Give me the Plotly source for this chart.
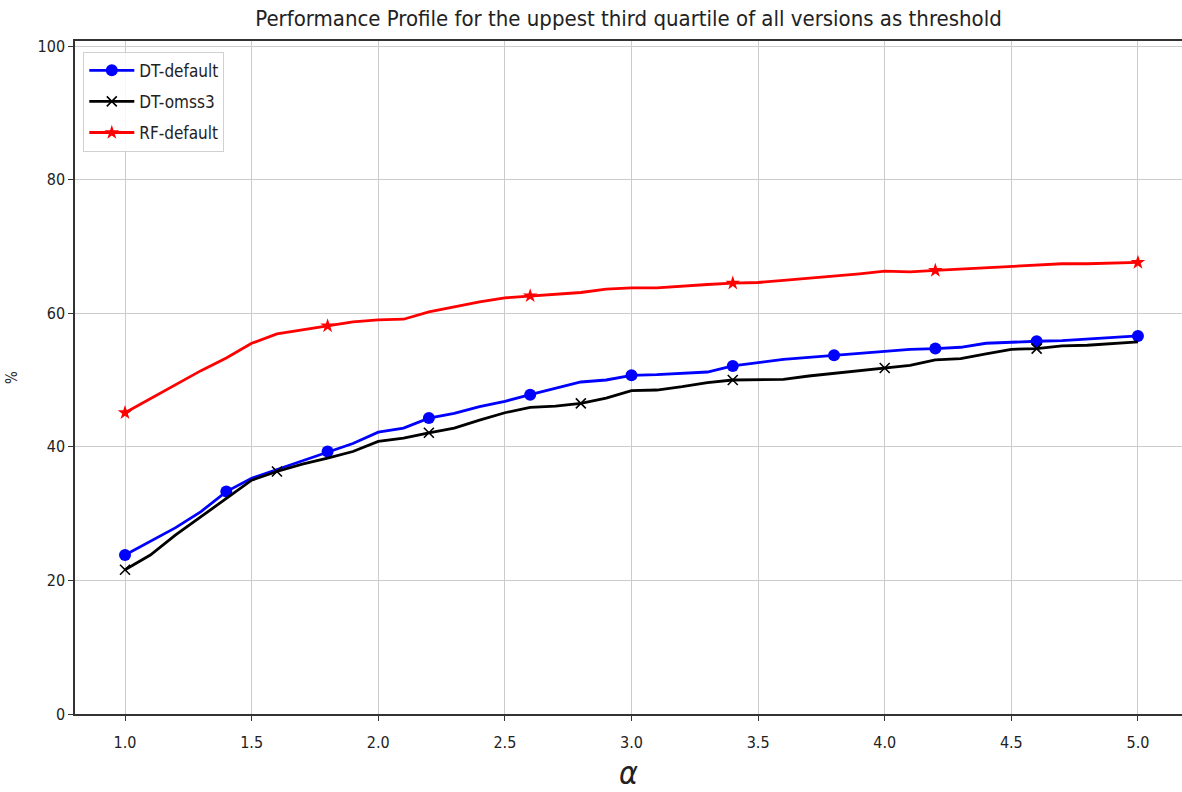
import plotly.graph_objects as go

# alpha grid shared by all three profiles
alpha = [round(1.0 + 0.1 * i, 1) for i in range(41)]

dt_default = [23.8, 25.8, 27.9, 30.3, 33.3, 35.3, 36.6, 38.0, 39.3, 40.5,
              42.2, 42.8, 44.3, 45.0, 46.0, 46.8, 47.8, 48.8, 49.7, 50.0,
              50.7, 50.8, 51.0, 51.2, 52.1, 52.6, 53.1, 53.4, 53.7, 54.1,
              54.4, 54.6, 54.7, 54.9, 55.5, 55.7, 55.8, 55.9, 56.1, 56.3,
              56.6]
dt_omss3 = [21.6, 23.8, 26.8, 29.5, 32.3, 35.0, 36.3, 37.4, 38.3, 39.3,
            40.8, 41.3, 42.1, 42.8, 44.0, 45.1, 45.9, 46.1, 46.5, 47.3,
            48.4, 48.5, 49.0, 49.6, 50.0, 50.1, 50.1, 50.6, 51.0, 51.3,
            51.8, 52.2, 53.0, 53.2, 53.9, 54.6, 54.7, 55.1, 55.2, 55.5,
            55.7]
rf_default = [45.1, 47.2, 49.3, 51.4, 53.3, 55.5, 56.9, 57.5, 58.1, 58.7,
              59.0, 59.1, 60.2, 61.0, 61.7, 62.3, 62.6, 62.9, 63.1, 63.6,
              63.8, 63.8, 64.1, 64.3, 64.5, 64.6, 64.9, 65.2, 65.6, 65.9,
              66.3, 66.2, 66.4, 66.6, 66.7, 66.9, 67.1, 67.4, 67.4, 67.5,
              67.6]

x_ticks = [1.0, 1.5, 2.0, 2.5, 3.0, 3.5, 4.0, 4.5, 5.0]
x_tick_text = ["1.0", "1.5", "2.0", "2.5", "3.0", "3.5", "4.0", "4.5", "5.0"]
y_ticks = [0, 20, 40, 60, 80, 100]

FONT = "DejaVu Sans Condensed, DejaVu Sans, sans-serif"
TEXT = "#222222"

series = [
    # name, values, colour, marker symbol, marker size, every n-th point marked
    ("DT-default", dt_default, "#0000ff", "circle", 12, 4),
    ("DT-omss3", dt_omss3, "#000000", "x-thin", 10, 6),
    ("RF-default", rf_default, "#ff0000", "star", 11, 8),
]

fig = go.Figure()
for name, vals, color, symbol, msize, every in series:
    # continuous curve
    fig.add_trace(go.Scatter(
        x=alpha, y=vals, mode="lines", showlegend=False, legendgroup=name,
        line=dict(color=color, width=2.8), hoverinfo="skip",
    ))
    # sparse markers (separated by gaps so no extra segments are drawn)
    mx, my = [], []
    for i in range(0, len(alpha), every):
        mx += [alpha[i], None]
        my += [vals[i], None]
    marker = dict(symbol=symbol, size=msize, color=color,
                  line=dict(color=color, width=1.6 if symbol == "x-thin" else 0))
    fig.add_trace(go.Scatter(
        x=mx, y=my, mode="lines+markers", name=name, connectgaps=False,
        legendgroup=name,
        line=dict(color=color, width=2.8), marker=marker,
    ))

fig.update_layout(
    width=1182, height=792,
    margin=dict(l=75, r=0, t=41, b=78),
    paper_bgcolor="white", plot_bgcolor="white",
    font=dict(family=FONT, size=14, color=TEXT),
    title=dict(
        text="Performance Profile for the uppest third quartile of all versions as threshold",
        x=0.5, xref="paper", xanchor="center", y=0.977, yanchor="middle",
        font=dict(family=FONT, size=22, color=TEXT),
    ),
    legend=dict(
        x=0.0075, y=0.984, xanchor="left", yanchor="top",
        bgcolor="rgba(255,255,255,0.85)", bordercolor="#d0d0d0", borderwidth=1,
        font=dict(family=FONT, size=17, color=TEXT),
        itemwidth=45, tracegroupgap=6, traceorder="grouped",
    ),
    showlegend=True,
)

fig.update_xaxes(
    range=[0.8025, 5.174],
    tickvals=x_ticks, ticktext=x_tick_text,
    showgrid=True, gridcolor="#cccccc", gridwidth=1,
    showline=True, linecolor="#333333", linewidth=1.5, mirror=True,
    ticks="outside", ticklen=5, tickcolor="#333333",
    ticklabelstandoff=8,
    tickfont=dict(family=FONT, size=16, color=TEXT),
    zeroline=False,
    title=dict(text="<i>α</i>", font=dict(family=FONT, size=32, color=TEXT), standoff=18),
)
fig.update_yaxes(
    range=[0, 100.75],
    tickvals=y_ticks,
    showgrid=True, gridcolor="#cccccc", gridwidth=1,
    showline=True, linecolor="#333333", linewidth=1.5,
    ticks="outside", ticklen=5, tickcolor="#333333",
    tickfont=dict(family=FONT, size=16, color=TEXT),
    zeroline=False,
    title=dict(text="%", font=dict(family=FONT, size=15, color=TEXT), standoff=16),
)

fig.write_html("out.html")
